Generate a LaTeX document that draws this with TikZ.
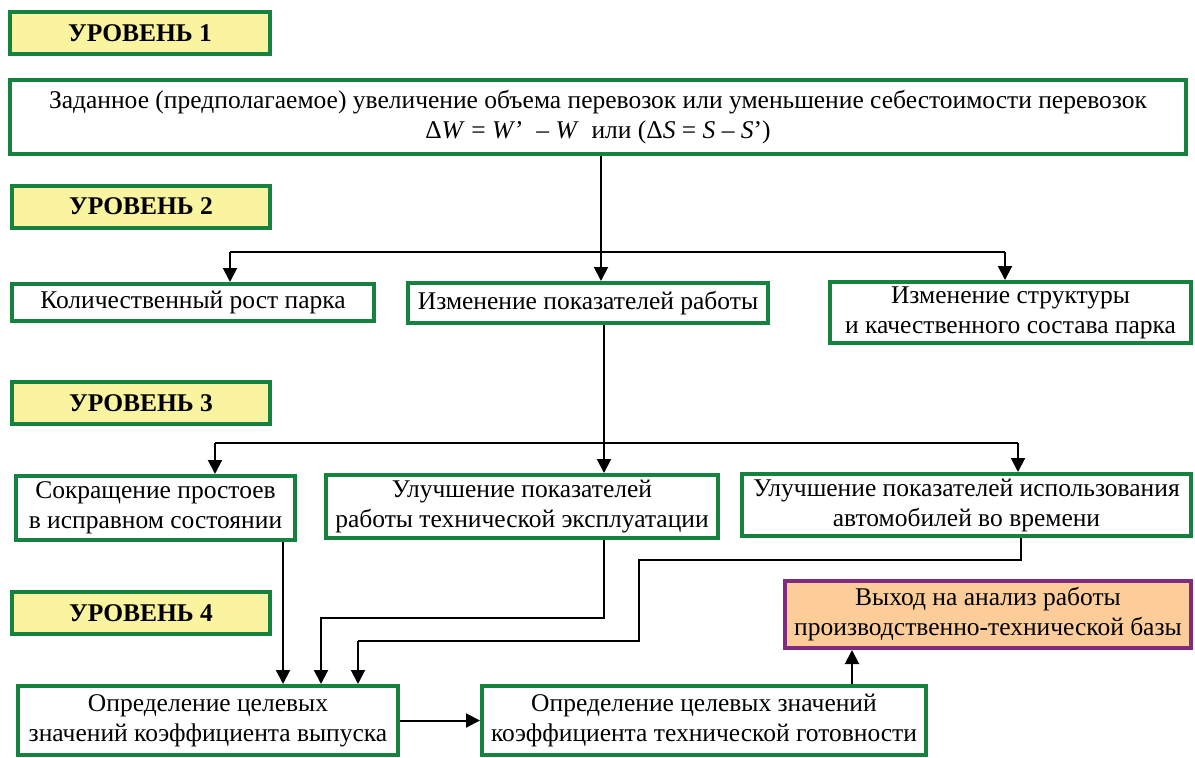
\documentclass[tikz,border=0pt]{standalone}
\usepackage{fontspec}
\setmainfont{Liberation Serif}
\usetikzlibrary{arrows.meta}
\definecolor{bgreen}{RGB}{22,130,64}
\definecolor{lyellow}{RGB}{250,244,160}
\definecolor{lorange}{RGB}{252,204,153}
\definecolor{bpurple}{RGB}{128,42,128}
\begin{document}
\begin{tikzpicture}[x=1pt,y=-1pt,
  box/.style={draw=bgreen,line width=4pt,fill=white,inner sep=1pt,align=center,
    font=\fontsize{25.5}{30}\selectfont,text=black},
  lvl/.style={draw=bgreen,line width=4pt,fill=lyellow,inner sep=0pt,
    minimum width=258pt,minimum height=42pt,font=\fontsize{25.5}{30}\selectfont\bfseries},
  outbox/.style={draw=bpurple,line width=4pt,fill=lorange,inner sep=1pt,align=center,
    font=\fontsize{25.5}{30}\selectfont},
  conn/.style={line width=2pt,black},
  thin/.style={line width=1.2pt,black},
  arr/.style={-{Triangle[length=14pt,width=14pt]}}]
\useasboundingbox (0,0) rectangle (1195,758);
% level labels
\node[lvl,minimum width=260pt] (L1) at (140,33) {УРОВЕНЬ 1};
\node[lvl] (L2) at (141,206.5) {УРОВЕНЬ 2};
\node[lvl] (L3) at (141,403) {УРОВЕНЬ 3};
\node[lvl] (L4) at (141,613) {УРОВЕНЬ 4};
% boxes
\node[box,minimum width=1176pt,minimum height=74pt] (main) at (598,117)
  {Заданное (предполагаемое) увеличение объема перевозок или уменьшение себестоимости перевозок\\
   Δ\textit{W} = \textit{W}’ \ – \textit{W} \ или (Δ\textit{S} = \textit{S} – \textit{S}’)};
\node[box,minimum width=362pt,minimum height=37pt] (B21) at (193,302.5) {Количественный рост парка};
\node[box,minimum width=360pt,minimum height=40pt] (B22) at (588,303) {Изменение показателей работы};
\node[box,minimum width=361pt,minimum height=61pt] (B23) at (1010.5,312.5) {Изменение структуры\\и качественного состава парка};
\node[box,minimum width=279pt,minimum height=64pt] (B31) at (155.5,508) {Сокращение простоев\\в исправном состоянии};
\node[box,minimum width=392pt,minimum height=63pt] (B32) at (522,506.5) {Улучшение показателей\\работы технической эксплуатации};
\node[box,minimum width=449pt,minimum height=62pt] (B33) at (966.5,505) {Улучшение показателей использования\\автомобилей во времени};
\node[box,minimum width=380pt,minimum height=69pt] (B41) at (208,720.5) {Определение целевых\\значений коэффициента выпуска};
\node[box,minimum width=444pt,minimum height=69pt] (B42) at (704,720.5) {Определение целевых значений\\коэффициента технической готовности};
\node[outbox,minimum width=406pt,minimum height=67pt] (OR) at (988,614.5) {Выход на анализ работы\\производственно-технической базы};
% coordinates
\coordinate (a1) at (601,252);
\coordinate (a2) at (230,252);
\coordinate (a3) at (1005,252);
\coordinate (b1) at (604,443);
\coordinate (b2) at (215,443);
\coordinate (b3) at (1018,443);
\coordinate (c1) at (283,0);
\coordinate (c2) at (604,618);
\coordinate (c3) at (321,618);
\coordinate (d1) at (1021,560);
\coordinate (d2) at (639,560);
\coordinate (d3) at (639,641);
\coordinate (d4) at (358,641);
\coordinate (e1) at (852,0);
% level 2 connectors
\draw[conn,arr] (main.south -| a1) -- (B22.north -| a1);
\draw[conn] (a2) -- (a3);
\draw[conn,arr] (a2) -- (B21.north -| a2);
\draw[conn,arr] (a3) -- (B23.north -| a3);
% level 3 connectors
\draw[conn,arr] (B22.south -| b1) -- (B32.north -| b1);
\draw[conn] (b2) -- (b3);
\draw[conn,arr] (b2) -- (B31.north -| b2);
\draw[conn,arr] (b3) -- (B33.north -| b3);
% level 4 connectors
\draw[conn,arr] (B31.south -| c1) -- (B41.north -| c1);
\draw[conn,arr] (B32.south -| c2) -- (c2) -- (c3) -- (B41.north -| c3);
\draw[thin] (B33.south -| d1) -- (d1) -- (d2) -- (d3) -- (d4);
\draw[conn,arr] (d4) -- (B41.north -| d4);
\draw[conn,arr] (B41.east) -- (B42.west);
\draw[conn,arr] (B42.north -| e1) -- (OR.south -| e1);
\end{tikzpicture}
\end{document}
